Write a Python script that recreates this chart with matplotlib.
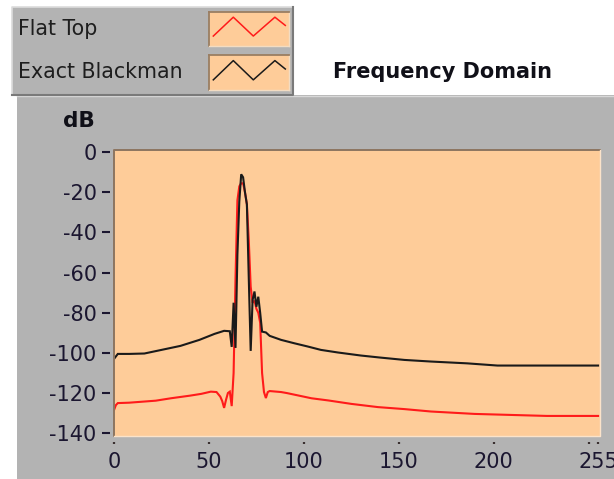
import matplotlib.pyplot as plt
from matplotlib.patches import Rectangle
from matplotlib.lines import Line2D

# Flat Top window spectrum (dB) vs bin
flat_x = [0, 1, 2, 8, 22, 30, 40, 46, 51, 54, 56, 57, 58, 59, 60, 61, 62, 63, 64, 65,
          66, 67, 68, 69, 70, 71, 72, 73, 74, 75, 76, 77, 78, 79, 80, 81, 82, 88, 91,
          98, 104, 113, 125, 139, 153, 167, 190, 228, 255]
flat_y = [-128.5, -126, -125, -124.8, -123.8, -122.6, -121.3, -120.4, -119.3, -119.5,
          -121.8, -124, -127.4, -123.4, -120, -119.3, -126.5, -110, -63, -24,
          -17, -15.5, -15.5, -20, -26, -44, -67, -75, -74, -78, -80, -85, -110, -119.5,
          -122.5, -119.5, -119, -119.5, -120, -121.4, -122.6, -123.7, -125.4, -127,
          -128, -129.2, -130.4, -131.4, -131.4]

# Exact Blackman window spectrum (dB) vs bin
black_x = [0, 2, 8, 16, 24, 35, 45, 53, 58, 61, 62, 63, 64, 65, 66, 67, 68, 69, 70, 71,
           72, 73, 74, 75, 76, 77, 78, 80, 82, 88, 95, 102, 109, 118, 130, 140, 153,
           167, 186, 202, 255]
black_y = [-103, -100.5, -100.5, -100.3, -98.7, -96.5, -93.5, -90.5, -89, -89.2, -97,
           -75, -97.5, -51, -24.6, -11, -12.5, -20, -26, -63, -99, -73.6, -69.4, -77,
           -72, -80, -89.4, -89.8, -91.5, -93.5, -95.2, -96.8, -98.5, -99.8, -101.3,
           -102.3, -103.5, -104.3, -105.2, -106.3, -106.3]

x_ticks = [0, 50, 100, 150, 200, 250, 255]
x_labels = ['0', '50', '100', '150', '200', '', '255']
y_ticks = [0, -20, -40, -60, -80, -100, -120, -140]

names = ['Flat Top', 'Exact Blackman']
colors = ['#FF1A1A', '#1A1A1A']

GRAY = '#B3B3B3'
PEACH = '#FECC99'
TXT = '#1B1630'

W, H = 614, 479


def fx(px):
    return px / W


def fy(py):
    return 1 - py / H


fig = plt.figure(figsize=(W / 100, H / 100), dpi=100, facecolor='white')

# gray panel behind the graph
fig.patches.append(Rectangle((fx(17), 0), 1 - fx(17), fy(95), transform=fig.transFigure,
                             facecolor=GRAY, edgecolor='none', zorder=-5))
fig.lines.append(Line2D([fx(17), 1], [fy(95.5), fy(95.5)], transform=fig.transFigure,
                        color='#D8D8D8', lw=1, zorder=-4))

# legend box
fig.patches.append(Rectangle((fx(11.7), fy(95)), fx(293.3) - fx(11.7), (95 - 7.3) / H,
                             transform=fig.transFigure, facecolor=GRAY, edgecolor='none',
                             zorder=-3))
fig.lines.append(Line2D([fx(11.7), fx(11.7), fx(293.3)], [fy(95), fy(7.3), fy(7.3)],
                        transform=fig.transFigure, color='#DCDCDC', lw=1.2, zorder=-2))
fig.lines.append(Line2D([fx(11.7), fx(293.3), fx(293.3)], [fy(95), fy(95), fy(7.3)],
                        transform=fig.transFigure, color='#7A7A7A', lw=1.5, zorder=-2))

legend_rows = [(29, 11.7, 46), (72, 55, 90)]
zig_x = [0.05, 0.3, 0.55, 0.82, 0.95]
zig_y = [0.29, 0.84, 0.29, 0.84, 0.6]
for name, col, (ty, top, bot) in zip(names, colors, legend_rows):
    fig.text(fx(18), fy(ty), name, ha='left', va='center', fontsize=14.8,
             color='#1E1E1E', zorder=3)
    sw = fig.add_axes([fx(209.3), fy(bot), fx(289.3) - fx(209.3), (bot - top) / H])
    sw.set_facecolor(PEACH)
    sw.plot(zig_x, zig_y, color=col, lw=1.1)
    sw.set_xlim(0, 1)
    sw.set_ylim(0, 1)
    sw.set_xticks([])
    sw.set_yticks([])
    for s in ['top', 'left']:
        sw.spines[s].set_color('#9A7E62')
        sw.spines[s].set_linewidth(1.3)
    for s in ['bottom', 'right']:
        sw.spines[s].set_color('#F3DCC2')
        sw.spines[s].set_linewidth(1.0)

fig.text(fx(333), fy(72), 'Frequency Domain', ha='left', va='center', fontsize=15,
         fontweight='bold', color='#101018')
fig.text(fx(79), fy(121), 'dB', ha='center', va='center', fontsize=15.5,
         fontweight='bold', color='#101018')

# main graph
ax = fig.add_axes([fx(114), fy(436), fx(600) - fx(114), (436 - 150) / H])
ax.set_facecolor(PEACH)
ax.plot(flat_x, flat_y, color=colors[0], lw=1.5, solid_joinstyle='miter')
ax.plot(black_x, black_y, color=colors[1], lw=1.5, solid_joinstyle='miter')
ax.set_xlim(0, 256)
ax.set_ylim(-141.4, 1.1)

for s in ax.spines.values():
    s.set_visible(False)
ax.spines['left'].set_position(('outward', 3))
ax.spines['bottom'].set_position(('outward', 4))

ax.set_yticks(y_ticks)
ax.set_yticklabels([str(v) for v in y_ticks])
ax.set_xticks(x_ticks)
ax.set_xticklabels(x_labels)
ax.tick_params(axis='y', direction='out', length=6, width=1.5, color=TXT, pad=3.5,
               labelsize=15, labelcolor=TXT)
ax.tick_params(axis='x', direction='out', length=1.5, width=1.6, color='#3A3030', pad=6,
               labelsize=15, labelcolor=TXT)

# inset frame of the plot area
ax.plot([0, 0, 1], [0, 1, 1], transform=ax.transAxes, color='#8C7560', lw=1.4,
        clip_on=False)
ax.plot([0, 1, 1], [0, 0, 1], transform=ax.transAxes, color='#FBE3CA', lw=1.0,
        clip_on=False)

fig.savefig('out.png', dpi=100, facecolor='white')
